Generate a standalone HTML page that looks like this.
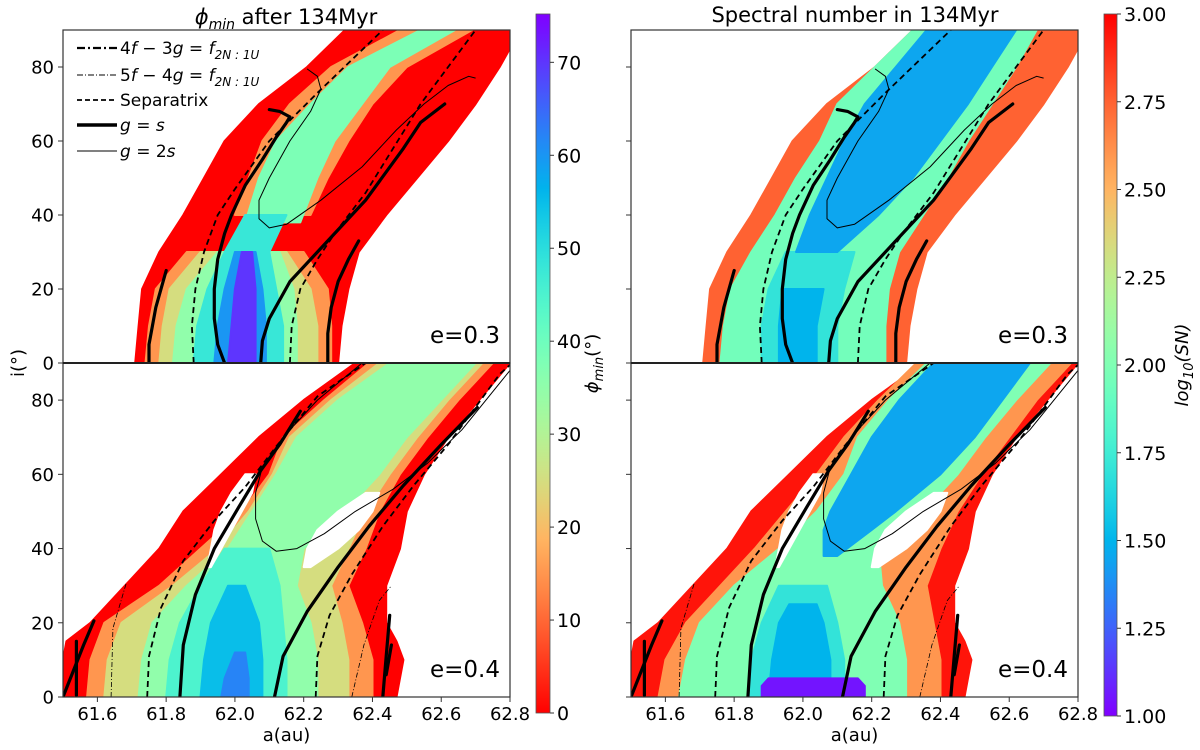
<!DOCTYPE html>
<html><head><meta charset="utf-8">
<style>
html,body{margin:0;padding:0;background:#fff;}
svg{display:block;font-family:"DejaVu Sans","Liberation Sans",sans-serif;}
</style></head>
<body>
<svg id="fig" width="1200" height="750" viewBox="0 0 1200 750"></svg>
<script>
// ---------- data ----------
const xTicks = [61.6, 61.8, 62.0, 62.2, 62.4, 62.6, 62.8];
const yTicks = [0, 20, 40, 60, 80];
const phiTicks = [0, 10, 20, 30, 40, 50, 60, 70];
const snTicks = [1.00, 1.25, 1.50, 1.75, 2.00, 2.25, 2.50, 2.75, 3.00];

// bands: value, inclination levels, left/right a edges
const bandsPhi03 = [
 {v:0, i:[0,10,20,30,40,50,60,70,80,90], L:[61.71,61.72,61.73,61.78,61.85,61.91,61.97,62.07,62.21,62.32], R:[62.30,62.31,62.33,62.36,62.44,62.53,62.62,62.70,62.77,62.83]},
 {v:15, i:[0,10,20,30], L:[61.74,61.75,61.77,61.86], R:[62.28,62.28,62.27,62.20]},
 {v:15, i:[40,50,60,70,80,90], L:[62.00,62.04,62.08,62.16,62.28,62.48], R:[62.22,62.27,62.33,62.40,62.50,62.69]},
 {v:25, i:[0,10,20,30], L:[61.78,61.79,61.81,61.90], R:[62.24,62.24,62.22,62.15]},
 {v:35, i:[0,10,20,30], L:[61.82,61.83,61.86,61.95], R:[62.18,62.18,62.17,62.13]},
 {v:38, i:[38,50,60,70,80,90], L:[62.03,62.07,62.12,62.22,62.33,62.54], R:[62.19,62.24,62.29,62.37,62.45,62.64]},
 {v:48, i:[0,10,20,30,40], L:[61.88,61.89,61.92,61.97,62.03], R:[62.14,62.14,62.12,62.10,62.15]},
 {v:60, i:[0,10,20,30], L:[61.94,61.95,61.97,62.00], R:[62.09,62.09,62.08,62.06]},
 {v:70, i:[0,10,20,30], L:[61.98,61.99,62.00,62.02], R:[62.06,62.06,62.06,62.05]}
];
const bandsSN03 = [
 {v:2.75, i:[0,10,20,30,40,50,60,70,80,90], L:[61.71,61.72,61.73,61.78,61.85,61.91,61.97,62.07,62.21,62.32], R:[62.30,62.31,62.33,62.36,62.44,62.53,62.62,62.70,62.77,62.83]},
 {v:1.95, i:[0,10,20,30,40,50,60,70,80,90], L:[61.76,61.77,61.79,61.85,61.92,61.98,62.05,62.10,62.21,62.32], R:[62.24,62.24,62.25,62.28,62.35,62.42,62.48,62.55,62.62,62.68]},
 {v:1.7, i:[0,10,20,30], L:[61.88,61.88,61.90,61.95], R:[62.10,62.10,62.12,62.15]},
 {v:1.5, i:[0,10,20], L:[61.93,61.93,61.94], R:[62.04,62.04,62.06]},
 {v:1.45, i:[30,40,50,60,70,80,90], L:[61.98,62.02,62.07,62.12,62.18,62.27,62.36], R:[62.10,62.22,62.32,62.40,62.48,62.55,62.62]}
];
const bandsPhi04 = [
 {v:0, i:[0,10,15,20,30,40,50,60,70,80,90], L:[61.50,61.50,61.51,61.58,61.68,61.78,61.85,61.96,62.07,62.20,62.35], R:[62.47,62.49,62.47,62.44,62.44,62.48,62.50,62.55,62.62,62.71,62.80]},
 {v:15, i:[0,10,20,30,40,50,60,70,80,90], L:[61.57,61.58,61.62,61.78,61.90,62.02,62.10,62.14,62.26,62.39], R:[62.40,62.40,62.37,62.33,62.38,62.42,62.48,62.56,62.65,62.75]},
 {v:25, i:[0,10,20,30,40,50,60,70,80,90], L:[61.62,61.63,61.67,61.82,61.95,62.04,62.11,62.16,62.28,62.42], R:[62.33,62.33,62.31,62.28,62.33,62.38,62.45,62.53,62.62,62.72]},
 {v:35, i:[0,10,20,30,40,50,60,70,80,90], L:[61.72,61.73,61.76,61.86,61.98,62.05,62.12,62.18,62.30,62.45], R:[62.24,62.24,62.22,62.18,62.20,62.32,62.42,62.50,62.60,62.70]},
 {v:45, i:[0,10,20,30,40], L:[61.80,61.81,61.84,61.90,61.97], R:[62.15,62.15,62.14,62.13,62.10]},
 {v:55, i:[0,10,20,30], L:[61.90,61.91,61.93,61.98], R:[62.08,62.08,62.07,62.03]},
 {v:62, i:[0,5,12], L:[61.96,61.97,62.00], R:[62.04,62.04,62.03]},
 {v:null, i:[35,40,45,50,55,60], L:[61.92,61.93,61.94,61.96,61.99,62.03], R:[61.93,61.96,61.99,62.02,62.05,62.06]},
 {v:null, i:[35,40,45,50,55], L:[62.20,62.21,62.24,62.30,62.38], R:[62.22,62.30,62.36,62.40,62.42]}
];
const bandsSN04 = [
 {v:2.95, i:[0,10,15,20,30,40,50,60,70,80,90], L:[61.50,61.50,61.51,61.58,61.68,61.78,61.85,61.96,62.07,62.20,62.35], R:[62.47,62.49,62.47,62.44,62.44,62.48,62.50,62.55,62.62,62.71,62.80]},
 {v:2.6, i:[0,10,20,30,40,50,60,70,80,90], L:[61.58,61.60,61.66,61.76,61.86,61.95,62.04,62.12,62.22,62.33], R:[62.40,62.40,62.38,62.36,62.40,62.45,62.52,62.60,62.68,62.78]},
 {v:2.0, i:[0,10,20,30,40,50,60,70,80,90], L:[61.64,61.66,61.70,61.80,61.93,62.04,62.12,62.16,62.25,62.36], R:[62.30,62.30,62.28,62.23,62.22,62.35,62.45,62.53,62.62,62.72]},
 {v:1.7, i:[0,10,20,30], L:[61.84,61.85,61.88,61.93], R:[62.12,62.12,62.10,62.07]},
 {v:1.5, i:[0,10,20,25], L:[61.90,61.91,61.93,61.96], R:[62.08,62.08,62.06,62.04]},
 {v:1.45, i:[38,45,50,60,70,80,90], L:[62.06,62.06,62.08,62.14,62.20,62.28,62.38], R:[62.10,62.20,62.27,62.40,62.50,62.58,62.66]},
 {v:1.05, i:[0,3,5], L:[61.88,61.88,61.90], R:[62.18,62.18,62.16]},
 {v:null, i:[35,40,45,50,55,60], L:[61.92,61.93,61.94,61.96,61.99,62.03], R:[61.93,61.96,61.99,62.02,62.05,62.06]},
 {v:null, i:[35,40,45,50,55], L:[62.20,62.21,62.24,62.30,62.38], R:[62.22,62.30,62.36,62.40,62.42]}
];

// curves for e=0.3 (a values, i values)
const gs03 = [
 {a:[61.75,61.75,61.76,61.77,61.785,61.80], i:[0,5,10,15,20,25]},
 {a:[61.97,61.95,61.94,61.94,61.95,61.97,61.99,62.03,62.08,62.12,62.15,62.16,62.13,62.10], i:[0,5,12,20,28,35,40,48,55,61,65,66.5,68,68.5]},
 {a:[62.075,62.08,62.10,62.16,62.26,62.38,62.49,62.54,62.61], i:[0,6,12,22,32,44,58,65,70]},
 {a:[62.27,62.27,62.28,62.30,62.33,62.36], i:[0,8,15,22,28,33]}
];
const sep03 = [
 {a:[61.88,61.875,61.885,61.91,61.95,62.00,62.10,62.24,62.43], i:[0,10,20,30,40,47,60,73,90]},
 {a:[62.16,62.165,62.19,62.24,62.29,62.38,62.46,62.54,62.70], i:[0,10,20,28,35,46,58,70,90]}
];
const g2s03 = [
 {a:[62.21,62.24,62.25,62.22,62.16,62.10,62.07,62.07,62.10,62.15,62.25,62.37,62.47,62.55,62.62,62.68,62.70], i:[79.5,77.5,74,68,60,50,44,39,36.5,37.5,44,53,63,70,75,77.5,77]}
];
const ddot03 = [];
// curves for e=0.4
const gs04 = [
 {a:[61.50,61.53,61.56,61.59], i:[0,7,14,20.5]},
 {a:[61.539,61.539], i:[0.5,15]},
 {a:[61.84,61.85,61.885,61.94,62.01,62.075,62.13,62.19], i:[0,14,27.6,40,51,61,68,77]},
 {a:[62.115,62.14,62.21,62.30,62.39,62.49,62.60,62.705], i:[0,11,23,35,46,57,68,78]},
 {a:[62.43,62.44,62.45], i:[0,11,22]},
 {a:[62.44,62.455], i:[6,14]}
];
const sep04 = [
 {a:[61.745,61.75,61.785,61.85,61.94,62.03,62.12,62.24,62.38], i:[0,11,24,36.7,47.5,56.6,67.5,81,90]},
 {a:[62.235,62.24,62.275,62.34,62.43,62.52,62.62,62.77,62.80], i:[0,11,22,33,46,57,68,87,89.5]}
];
const g2s04 = [
 {a:[62.37,62.24,62.14,62.08,62.06,62.06,62.08,62.12,62.18,62.26,62.35,62.46,62.56,62.66,62.80], i:[90,80,70,62,55,48,42,39.3,40,44,50,56,63,72,88]}
];
const ddot04 = [
 {a:[61.64,61.645,61.685], i:[0,18.5,31]},
 {a:[62.34,62.375,62.42,62.455], i:[0,14,26,30]}
];

// ---------- helpers ----------
const NS = "http://www.w3.org/2000/svg";
const svg = document.getElementById('fig');
function mk(tag, attrs, parent){
  const e = document.createElementNS(NS, tag);
  for (const k in attrs) e.setAttribute(k, attrs[k]);
  (parent||svg).appendChild(e);
  return e;
}
function rainbow(x){
  x = Math.max(0, Math.min(1, x));
  const r = Math.min(1, Math.abs(2*x - 0.5));
  const g = Math.sin(Math.PI*x);
  const b = Math.cos(Math.PI*x/2);
  return `rgb(${Math.round(r*255)},${Math.round(g*255)},${Math.round(b*255)})`;
}
const phiColor = v => rainbow(1 - v/75);
const snColor = v => rainbow((v-1)/2);

const panels = [
  {x0:63, x1:510, y0:30, y1:363, bands:bandsPhi03, col:phiColor, gs:gs03, sep:sep03, g2:g2s03, dd:ddot03, lab:'e=0.3', name:'phi-e03', leftLabels:true, bottom:false},
  {x0:631, x1:1078, y0:30, y1:363, bands:bandsSN03, col:snColor, gs:gs03, sep:sep03, g2:g2s03, dd:ddot03, lab:'e=0.3', name:'sn-e03', leftLabels:false, bottom:false},
  {x0:63, x1:510, y0:363, y1:697, bands:bandsPhi04, col:phiColor, gs:gs04, sep:sep04, g2:g2s04, dd:ddot04, lab:'e=0.4', name:'phi-e04', leftLabels:true, bottom:true},
  {x0:631, x1:1078, y0:363, y1:697, bands:bandsSN04, col:snColor, gs:gs04, sep:sep04, g2:g2s04, dd:ddot04, lab:'e=0.4', name:'sn-e04', leftLabels:false, bottom:true}
];

panels.forEach(p => {
  const sx = a => p.x0 + (a - 61.5) / 1.3 * (p.x1 - p.x0);
  const sy = i => p.y1 - i / 90 * (p.y1 - p.y0);
  const g = mk('g', {});
  
  
  const cid = 'clip-' + p.name;
  const cp = mk('clipPath', {id: cid}, g);
  mk('rect', {x:p.x0, y:p.y0, width:p.x1-p.x0, height:p.y1-p.y0}, cp);
  const hg = mk('g', {'clip-path':`url(#${cid})`}, g);
  
  
  p.bands.forEach((b, k) => {
    const pts = [];
    b.i.forEach((iv, j) => pts.push(sx(b.L[j]).toFixed(1) + ',' + sy(iv).toFixed(1)));
    for (let j = b.i.length - 1; j >= 0; j--) pts.push(sx(b.R[j]).toFixed(1) + ',' + sy(b.i[j]).toFixed(1));
    const poly = mk('polygon', {points: pts.join(' '), fill: b.v === null ? '#fff' : p.col(b.v), stroke: b.v === null ? '#fff' : p.col(b.v), 'stroke-width': 2, 'stroke-linejoin':'round'}, hg);
    
    
  });
  function curve(c, style, nm){
    const d = c.a.map((a, j) => (j ? 'L' : 'M') + sx(a).toFixed(1) + ',' + sy(c.i[j]).toFixed(1)).join(' ');
    const path = mk('path', Object.assign({d: d, fill:'none', stroke:'#000', 'stroke-linejoin':'round'}, style), hg);
    
    
  }
  p.gs.forEach(c => curve(c, {'stroke-width':3.2, 'stroke-linecap':'round'}, 'curve-g-eq-s'));
  p.sep.forEach(c => curve(c, {'stroke-width':1.8, 'stroke-dasharray':'6 4'}, 'separatrix'));
  p.g2.forEach(c => curve(c, {'stroke-width':1}, 'curve-g-eq-2s'));
  p.dd.forEach(c => curve(c, {'stroke-width':0.8, 'stroke-dasharray':'5 2 1 2'}, 'resonance-5f-4g'));
  const fr = mk('rect', {x:p.x0, y:p.y0, width:p.x1-p.x0, height:p.y1-p.y0, fill:'none', stroke:'#333', 'stroke-width':1.2}, g);
  
  
  yTicks.forEach(t => {
    mk('line', {x1:p.x0-5, x2:p.x0, y1:sy(t), y2:sy(t), stroke:'#333', 'stroke-width':1}, g);
    if (p.leftLabels) {
      const tx = mk('text', {x:p.x0-9, y:sy(t)+6.5, 'text-anchor':'end', 'font-size':18, fill:'#000'}, g);
      tx.textContent = t;
      
      
    }
  });
  if (p.bottom) {
    xTicks.forEach(t => {
      mk('line', {x1:sx(t), x2:sx(t), y1:p.y1, y2:p.y1+5, stroke:'#333', 'stroke-width':1}, g);
      const tx = mk('text', {x:sx(t), y:p.y1+23, 'text-anchor':'middle', 'font-size':18, fill:'#000'}, g);
      tx.textContent = t.toFixed(1);
      
      
    });
    const xl = mk('text', {x:(p.x0+p.x1)/2, y:p.y1+44, 'text-anchor':'middle', 'font-size':18, fill:'#000'}, g);
    xl.textContent = 'a(au)';
    
    
  }
  const el = mk('text', {x:p.x1-10, y:p.y1-20, 'text-anchor':'end', 'font-size':23, fill:'#000'}, g);
  el.textContent = p.lab;
  
  
});
mk('line', {x1:63, x2:510, y1:363, y2:363, stroke:'#222', 'stroke-width':2});
mk('line', {x1:631, x2:1078, y1:363, y2:363, stroke:'#222', 'stroke-width':2});

let t1 = mk('text', {x:286, y:24, 'text-anchor':'middle', 'font-size':21, fill:'#000'});
t1.innerHTML = '<tspan font-style="italic">ϕ</tspan><tspan font-style="italic" font-size="14" dy="5">min</tspan><tspan dy="-5"> after 134Myr</tspan>';


let t2 = mk('text', {x:855, y:22, 'text-anchor':'middle', 'font-size':21, fill:'#000'});
t2.textContent = 'Spectral number in 134Myr';


let yl = mk('text', {x:0, y:0, 'text-anchor':'middle', 'font-size':18, fill:'#000', transform:'translate(24,363) rotate(-90)'});
yl.textContent = 'i(°)';



const leg = mk('g', {});


const legItems = [
  {y:54, style:{'stroke-width':2.2,'stroke-dasharray':'8 3 2 3'}, html:'4<tspan font-style="italic">f</tspan> − 3<tspan font-style="italic">g</tspan> = <tspan font-style="italic">f</tspan><tspan font-size="12" dy="5" font-style="italic">2N : 1U</tspan>'},
  {y:81, style:{'stroke-width':0.9,'stroke-dasharray':'6 2 1 2'}, html:'5<tspan font-style="italic">f</tspan> − 4<tspan font-style="italic">g</tspan> = <tspan font-style="italic">f</tspan><tspan font-size="12" dy="5" font-style="italic">2N : 1U</tspan>'},
  {y:106, style:{'stroke-width':1.8,'stroke-dasharray':'5 3'}, html:'Separatrix'},
  {y:131, style:{'stroke-width':3.5}, html:'<tspan font-style="italic">g</tspan> = <tspan font-style="italic">s</tspan>'},
  {y:157, style:{'stroke-width':1}, html:'<tspan font-style="italic">g</tspan> = 2<tspan font-style="italic">s</tspan>'}
];
legItems.forEach(it => {
  const ln = mk('line', Object.assign({x1:77, x2:117, y1:it.y-6, y2:it.y-6, stroke:'#000'}, it.style), leg);
  
  
  const tx = mk('text', {x:120, y:it.y, 'font-size':17, fill:'#000'}, leg);
  tx.innerHTML = it.html;
  
  
});

function colorbar(x, w, yTop, yBot, vmin, vmax, colFn, ticks, fmt, label, nm, labelX){
  const g = mk('g', {});
  
  
  const id = 'grad-' + nm;
  const defs = mk('defs', {}, g);
  const lg = mk('linearGradient', {id:id, x1:0, y1:1, x2:0, y2:0}, defs);
  for (let k = 0; k <= 40; k++) {
    const v = vmin + (vmax - vmin) * k / 40;
    mk('stop', {offset: k/40, 'stop-color': colFn(v)}, lg);
  }
  mk('rect', {x:x, y:yTop, width:w, height:yBot-yTop, fill:`url(#${id})`, stroke:'#555', 'stroke-width':0.8}, g);
  const sy = v => yBot - (v - vmin) / (vmax - vmin) * (yBot - yTop);
  ticks.forEach(t => {
    mk('line', {x1:x+w, x2:x+w+4, y1:sy(t), y2:sy(t), stroke:'#333'}, g);
    const tx = mk('text', {x:x+w+7, y:sy(t)+7, 'font-size':19, fill:'#000'}, g);
    tx.textContent = fmt(t);
    
    
  });
  const lb = mk('text', {x:0, y:0, 'text-anchor':'middle', 'font-size':18, fill:'#000', transform:`translate(${labelX},${(yTop+yBot)/2}) rotate(-90)`}, g);
  lb.innerHTML = label;
  
  
}
colorbar(536, 14, 14, 713, 0, 75.2, phiColor, phiTicks, t => String(t),
  '<tspan font-style="italic">ϕ</tspan><tspan font-style="italic" font-size="13" dy="5">min</tspan><tspan dy="-5">(°)</tspan>', 'phi-colorbar', 598);
colorbar(1104, 13, 14, 716, 1, 3, snColor, snTicks, t => t.toFixed(2),
  '<tspan font-style="italic">log</tspan><tspan font-style="italic" font-size="13" dy="5">10</tspan><tspan dy="-5" font-style="italic">(SN)</tspan>', 'sn-colorbar', 1188);
</script>
</body></html>
